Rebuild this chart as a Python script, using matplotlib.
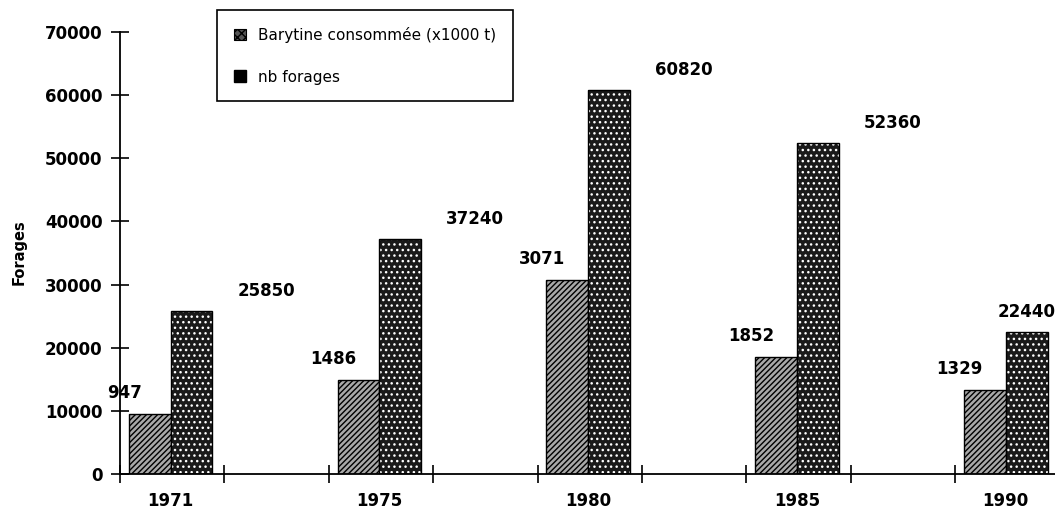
import numpy as np
import matplotlib
matplotlib.use("Agg")
import matplotlib.pyplot as plt
import matplotlib.patches as mpatches

# data
years = ["1971", "1975", "1980", "1985", "1990"]
barytine_kt = [947, 1486, 3071, 1852, 1329]      # x1000 t, drawn x10 on the forages scale
nb_forages = [25850, 37240, 60820, 52360, 22440]
yticks = [0, 10000, 20000, 30000, 40000, 50000, 60000, 70000]

plt.rcParams["font.family"] = ["DejaVu Sans"]
plt.rcParams["hatch.linewidth"] = 1.0

fig = plt.figure(figsize=(10.55, 5.13), dpi=100)
ax = fig.add_axes([120 / 1055, 39 / 513, 938 / 1055, 442 / 513])

x = np.arange(len(years))
w = 0.2
bary_scaled = [v * 10 for v in barytine_kt]
xmax = 4.25

# barytine: medium grey hatched bars
ax.bar(x - w / 2, bary_scaled, width=w, facecolor="#a8a8a8", edgecolor="black",
       hatch="//////", linewidth=1.0, zorder=2)
# forages: dark bars with white dots, then a black outline
ax.bar(x + w / 2, nb_forages, width=w, facecolor="#1a1a1a", edgecolor="white",
       hatch="...", linewidth=0, zorder=2)
ax.bar(x + w / 2, nb_forages, width=w, fill=False, edgecolor="black",
       linewidth=1.0, zorder=3)

lab_kw = dict(fontsize=12, fontweight="bold", ha="center", va="bottom",
              textcoords="offset points", clip_on=False)
for xi, v, h in zip(x, barytine_kt, bary_scaled):
    ax.annotate(str(v), (xi - 0.22, h), xytext=(0, 9), **lab_kw)
for xi, v in zip(x, nb_forages):
    # keep the last label inside the page
    ax.annotate(str(v), (min(xi + 0.457, 4.1), v), xytext=(0, 8), **lab_kw)

ax.set_xlim(-0.242, xmax)
ax.set_ylim(0, 70000)

# tick marks sit half-way between categories, labels at the category centres
ax.set_xticks(np.arange(-0.242, xmax, 0.5))
ax.set_xticklabels([])
ax.set_xticks(x, minor=True)
ax.set_xticklabels(years, minor=True, fontsize=12, fontweight="bold")
ax.tick_params(axis="x", which="major", direction="inout", length=13, width=1.2)
ax.tick_params(axis="x", which="minor", length=0, pad=13)

ax.set_yticks(yticks)
ax.set_yticklabels([str(t) for t in yticks], fontsize=12, fontweight="bold")
ax.tick_params(axis="y", direction="inout", length=13, width=1.2, pad=6)

for s in ["top", "right"]:
    ax.spines[s].set_visible(False)
for s in ["left", "bottom"]:
    ax.spines[s].set_linewidth(1.3)

fig.text(19 / 1055, 1 - 252 / 513, "Forages", rotation=90, fontsize=10.5,
         fontweight="bold", ha="center", va="center")

handles = [
    mpatches.Patch(facecolor="#555555", edgecolor="black", hatch="xxxx", linewidth=0.8),
    mpatches.Patch(facecolor="black", edgecolor="black"),
]
leg = fig.legend(handles, ["Barytine consommée (x1000 t)", "nb forages"],
                 loc="upper left", bbox_to_anchor=(217 / 1055, 1 - 10 / 513),
                 bbox_transform=fig.transFigure, borderaxespad=0,
                 fontsize=11, handlelength=0.8, handleheight=0.8,
                 handletextpad=0.8, labelspacing=1.75, borderpad=1.1,
                 fancybox=False, framealpha=1, edgecolor="black")
leg.get_frame().set_linewidth(1.2)

fig.savefig("out.png", dpi=100)
plt.close(fig)
